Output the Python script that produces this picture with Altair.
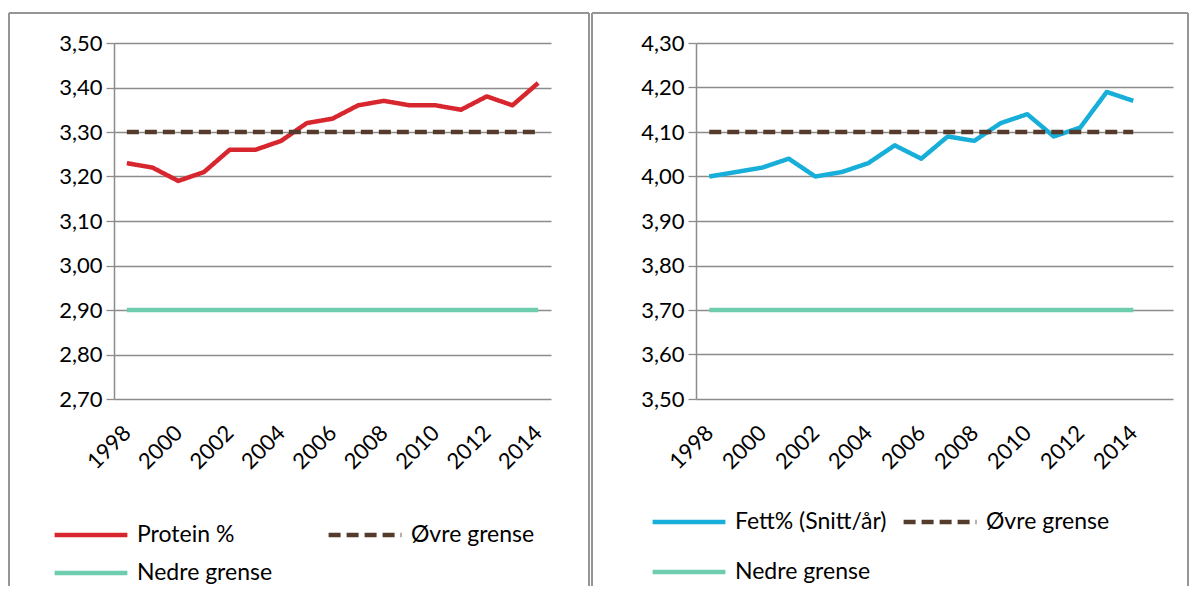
import altair as alt
import pandas as pd

# ---------------- data ----------------
years = [1998, 1999, 2000, 2001, 2002, 2003, 2004, 2005, 2006, 2007,
         2008, 2009, 2010, 2011, 2012, 2013, 2014]
protein = [3.23, 3.22, 3.19, 3.21, 3.26, 3.26, 3.28, 3.32, 3.33, 3.36,
           3.37, 3.36, 3.36, 3.35, 3.38, 3.36, 3.41]
protein_upper = [3.30, 3.30, 3.30, 3.30, 3.30, 3.30, 3.30, 3.30, 3.30, 3.30,
                 3.30, 3.30, 3.30, 3.30, 3.30, 3.30, 3.30]
protein_lower = [2.90, 2.90, 2.90, 2.90, 2.90, 2.90, 2.90, 2.90, 2.90, 2.90,
                 2.90, 2.90, 2.90, 2.90, 2.90, 2.90, 2.90]
fat = [4.00, 4.01, 4.02, 4.04, 4.00, 4.01, 4.03, 4.07, 4.04, 4.09,
       4.08, 4.12, 4.14, 4.09, 4.11, 4.19, 4.17]
fat_upper = [4.10, 4.10, 4.10, 4.10, 4.10, 4.10, 4.10, 4.10, 4.10, 4.10,
             4.10, 4.10, 4.10, 4.10, 4.10, 4.10, 4.10]
fat_lower = [3.70, 3.70, 3.70, 3.70, 3.70, 3.70, 3.70, 3.70, 3.70, 3.70,
             3.70, 3.70, 3.70, 3.70, 3.70, 3.70, 3.70]

protein_categories = [1998, 1999, 2000, 2001, 2002, 2003, 2004, 2005, 2006,
                      2007, 2008, 2009, 2010, 2011, 2012, 2013, 2014]
fat_categories = [1998, 1999, 2000, 2001, 2002, 2003, 2004, 2005, 2006,
                  2007, 2008, 2009, 2010, 2011, 2012, 2013, 2014, 2015]
label_years = [1998, 2000, 2002, 2004, 2006, 2008, 2010, 2012, 2014]

protein_ticks = [2.70, 2.80, 2.90, 3.00, 3.10, 3.20, 3.30, 3.40, 3.50]
fat_ticks = [3.50, 3.60, 3.70, 3.80, 3.90, 4.00, 4.10, 4.20, 4.30]

UPPER = "Øvre grense"
LOWER = "Nedre grense"

FONT = "Lato"
GRID = "#8c8c8c"
BORDER = "#959595"
BROWN = "#553b2b"
TEAL = "#6dcdae"


def panel(name, values, upper, lower, color, categories, ticks, width,
          left_off, right_off, leg_x, leg_y, row_pad, col_pad):
    height = 356
    # column-major legend layout: [row1col1, row2col1, row1col2]
    domain = [name, LOWER, UPPER]
    colors = [color, TEAL, BROWN]
    dashes = [[1, 0], [1, 0], [12, 6]]

    legend = alt.Legend(
        title=None, orient="none", legendX=leg_x, legendY=leg_y,
        columns=2, symbolType="stroke", symbolSize=5300,
        symbolStrokeWidth=4.5, labelFont=FONT, labelFontSize=23,
        labelColor="#000000", labelOffset=7, clipHeight=24,
        rowPadding=row_pad, columnPadding=col_pad, labelLimit=500,
        padding=0,
    )
    col = alt.Color("series:N", scale=alt.Scale(domain=domain, range=colors),
                    legend=legend)
    dash = alt.StrokeDash("series:N",
                          scale=alt.Scale(domain=domain, range=dashes),
                          legend=legend)

    xscale = alt.Scale(domain=[categories[0] - 0.5, categories[-1] + 0.5],
                       nice=False, zero=False)
    yscale = alt.Scale(domain=[ticks[0], ticks[-1]], nice=False, zero=False)

    tick_axis = alt.Axis(
        values=[c - 0.5 for c in categories] + [categories[-1] + 0.5],
        labels=False, grid=False, ticks=True, tickSize=7, tickWidth=1.3,
        tickColor=GRID, domain=True, domainColor=GRID, domainWidth=1.5,
        orient="bottom", title=None,
    )
    label_axis = alt.Axis(
        values=label_years, labels=True, ticks=False, domain=False,
        grid=False, orient="bottom", title=None, labelAngle=-45,
        labelAlign="right", labelBaseline="middle", labelPadding=30,
        labelFont=FONT, labelFontSize=22, labelColor="#000000",
        labelFlush=False, labelOverlap=False, format="d",
    )
    y_axis = alt.Axis(
        values=ticks, grid=True, gridColor=GRID, gridWidth=1.3,
        domain=True, domainColor=GRID, domainWidth=1.5, ticks=True,
        tickColor=GRID, tickSize=8, tickWidth=1.3, labelFont=FONT,
        labelFontSize=22, labelColor="#000000", labelPadding=4,
        format=".2f", title=None, orient="left",
    )

    df = pd.DataFrame({
        "year": years + years + years,
        "value": values + upper + lower,
        "series": [name] * len(years) + [UPPER] * len(years)
        + [LOWER] * len(years),
    })

    lines = alt.Chart(df).mark_line(strokeWidth=4.5, strokeJoin="round").encode(
        x=alt.X("year:Q", scale=xscale, axis=label_axis),
        y=alt.Y("value:Q", scale=yscale, axis=y_axis),
        color=col, strokeDash=dash,
    )
    tickl = alt.Chart(df).mark_point(opacity=0).encode(
        x=alt.X("year:Q", scale=xscale, axis=tick_axis),
        y=alt.Y("value:Q", scale=yscale, axis=y_axis),
    )

    one = pd.DataFrame({"k": [0]})
    top = alt.Chart(one).mark_rule(color=BORDER, strokeWidth=2).encode(
        x=alt.value(left_off), x2=alt.value(right_off), y=alt.value(-30))
    lft = alt.Chart(one).mark_rule(color=BORDER, strokeWidth=2).encode(
        x=alt.value(left_off), y=alt.value(-30), y2=alt.value(543))
    rgt = alt.Chart(one).mark_rule(color=BORDER, strokeWidth=2).encode(
        x=alt.value(right_off), y=alt.value(-30), y2=alt.value(543))

    return alt.layer(lines, tickl, top, lft, rgt).properties(
        width=width, height=height)


left = panel("Protein %", protein, protein_upper, protein_lower, "#d8262f",
             protein_categories, protein_ticks, 437, -105, 475,
             -62, 480, 14, 53)
right = panel("Fett% (Snitt/år)", fat, fat_upper, fat_lower, "#17afd9",
              fat_categories, fat_ticks, 477, -104, 492,
              -46, 467, 26, 14)

chart = alt.hconcat(left, right, spacing=1).resolve_scale(
    x="independent", y="independent", color="independent",
    strokeDash="independent",
).resolve_legend(color="independent", strokeDash="independent").configure(
    padding={"left": 0, "top": 4, "right": 0, "bottom": 0},
    background="white",
    locale=alt.Locale(number=alt.NumberLocale(
        decimal=",", thousands="\u00a0", grouping=[3],
        currency=["", " kr"])),
).configure_view(stroke=None)

chart.save("out.html", embed_options={"renderer": "svg", "actions": False})
